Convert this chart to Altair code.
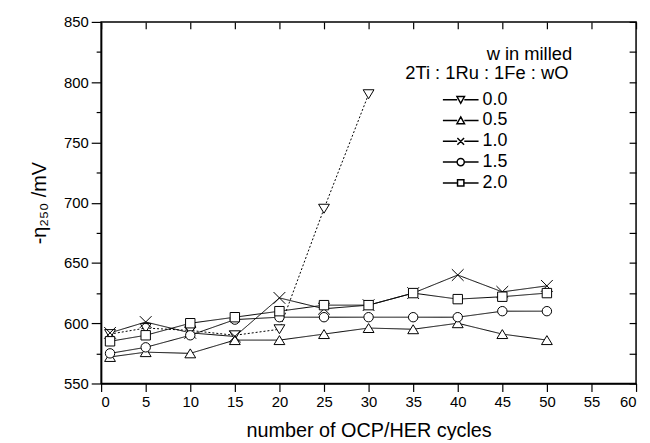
import altair as alt
import pandas as pd

series = ["0.0", "0.5", "1.0", "1.5", "2.0"]
cycles = [1, 5, 10, 15, 20, 25, 30, 35, 40, 45, 50]
cycles_w00 = [1, 5, 10, 15, 20, 25, 30]

eta_w00 = [591, 596, 594, 590, 595, 695, 790]
eta_w05 = [572, 576, 575, 586, 586, 591, 596, 595, 600, 591, 586]
eta_w10 = [592, 601, 592, 589, 621, 612, 615, 625, 640, 626, 631]
eta_w15 = [575, 580, 590, 603, 605, 605, 605, 605, 605, 610, 610]
eta_w20 = [585, 590, 600, 605, 610, 615, 615, 625, 620, 622, 625]

x_ticks = list(range(0, 61, 5))
y_ticks = list(range(550, 851, 25))

rows = []
for w, xs, ys in [("0.0", cycles_w00, eta_w00), ("0.5", cycles, eta_w05),
                  ("1.0", cycles, eta_w10), ("1.5", cycles, eta_w15),
                  ("2.0", cycles, eta_w20)]:
    for xv, yv in zip(xs, ys):
        rows.append({"w": w, "cycles": xv, "eta": yv})
df = pd.DataFrame(rows)

FONT = "Liberation Sans"
xscale = alt.Scale(domain=[0, 60], nice=False, zero=False)
yscale = alt.Scale(domain=[550, 850], nice=False, zero=False)

tri_down = "M-1.15,-0.95L1.15,-0.95L0,0.95Z"
tri_up = "M0,-0.95L1.15,0.95L-1.15,0.95Z"
x_path = "M-1.25,-1.25L1.25,1.25M1.25,-1.25L-1.25,1.25"
plot_shapes = [tri_down, tri_up, x_path, "circle", "square"]

seg = "M-4.5,0L-0.9,0M0.9,0L4.5,0"
legend_paths = [
    seg + "M-0.95,-0.8L0.95,-0.8L0,0.9Z",
    seg + "M0,-0.9L0.95,0.8L-0.95,0.8Z",
    seg + "M-0.85,-0.85L0.85,0.85M0.85,-0.85L-0.85,0.85",
    seg + "M0.9,0A0.9,0.9,0,1,1,-0.9,0A0.9,0.9,0,1,1,0.9,0Z",
    seg + "M-0.8,-0.8L0.8,-0.8L0.8,0.8L-0.8,0.8Z",
]

bottom_axis = alt.Axis(values=x_ticks, tickSize=8, labelPadding=3, labelFontSize=15,
                       title="number of OCP/HER cycles", titleFontSize=20,
                       titleFontWeight="normal", titlePadding=12, grid=False,
                       domainColor="black", domainWidth=1.5, tickColor="black",
                       tickWidth=1.2, labelColor="black", titleColor="black")
left_axis = alt.Axis(values=y_ticks, labelExpr="datum.value % 50 === 0 ? datum.label : ''",
                     tickSize={"condition": {"test": "datum.value % 50 === 0", "value": 10}, "value": 5},
                     labelPadding=3, labelFontSize=15, title="-η₂₅₀ /mV", titleFontSize=20,
                     titleFontWeight="normal", titlePadding=14, grid=False,
                     domainColor="black", domainWidth=1.5, tickColor="black",
                     tickWidth=1.2, labelColor="black", titleColor="black")
top_axis = alt.Axis(orient="top", values=x_ticks, tickSize=7, offset=-7, labels=False,
                    domain=False, title=None, grid=False, tickColor="black", tickWidth=1.2)
right_axis = alt.Axis(orient="right", values=y_ticks, tickSize=7, offset=-7, labels=False,
                      domain=False, title=None, grid=False, tickColor="black", tickWidth=1.2)

lines = alt.Chart(df).mark_line(color="black", strokeWidth=1).encode(
    x=alt.X("cycles:Q", scale=xscale, axis=bottom_axis),
    y=alt.Y("eta:Q", scale=yscale, axis=left_axis),
    strokeDash=alt.StrokeDash("w:N", scale=alt.Scale(domain=series,
                              range=[[2, 2], [1, 0], [1, 0], [1, 0], [1, 0]]), legend=None),
    detail="w:N",
)

points = alt.Chart(df).mark_point(fill="white", stroke="black", strokeWidth=1,
                                  size=90, opacity=1).encode(
    x=alt.X("cycles:Q", scale=xscale, axis=top_axis),
    y=alt.Y("eta:Q", scale=yscale, axis=right_axis),
    shape=alt.Shape("w:N", scale=alt.Scale(domain=series, range=plot_shapes), legend=None),
)

# legend-only layer: its marks fall outside the clipped plot area
legend_layer = alt.Chart(df).transform_calculate(
    off="datum.eta + 1000", v="datum.w"
).mark_point(fill="white", stroke="black", strokeWidth=1, opacity=1, size=64,
             clip=True).encode(
    x=alt.X("cycles:Q", scale=xscale, axis=None),
    y=alt.Y("off:Q", scale=yscale, axis=None),
    shape=alt.Shape("v:N", scale=alt.Scale(domain=series, range=legend_paths),
                    legend=alt.Legend(
                        title=["\u200b" + "\u00a0" * 16 + "w in milled",
                               "2Ti : 1Ru : 1Fe : wO"],
                        orient="none", legendX=307, legendY=23, titleLimit=400,
                        titleFontSize=18.5, titleFontWeight="normal", titleColor="black",
                        titleFont=FONT, titleLineHeight=20, titlePadding=8,
                        labelFontSize=18, labelColor="black", labelFont=FONT,
                        symbolSize=64, symbolOffset=47, labelOffset=13, rowPadding=3)),
)

chart = alt.layer(lines, points, legend_layer).resolve_axis(
    x="independent", y="independent"
).resolve_scale(shape="independent").properties(
    width=540, height=365,
    autosize=alt.AutoSizeParams(type="none"),
    padding={"left": 94, "top": 12, "right": 6, "bottom": 55},
).configure(font=FONT).configure_view(stroke="black", strokeWidth=1.5)

chart.save("out.html", embed_options={"renderer": "svg", "actions": False})
